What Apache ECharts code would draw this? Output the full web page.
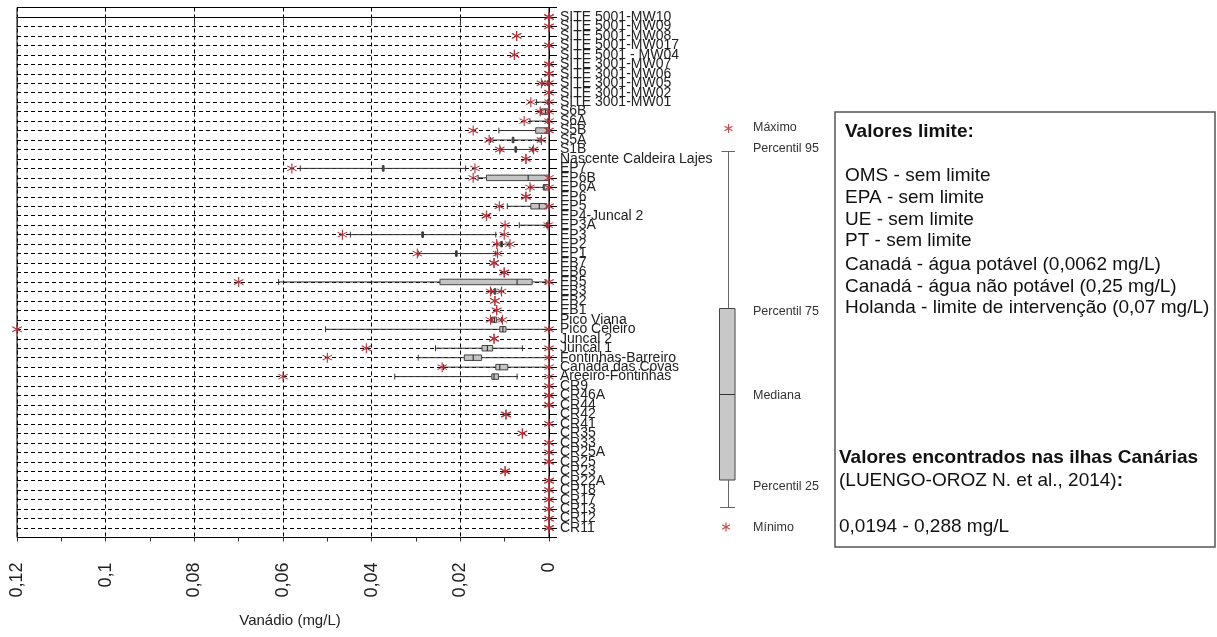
<!DOCTYPE html>
<html>
<head>
<meta charset="utf-8">
<script src="https://cdn.jsdelivr.net/npm/echarts@6/dist/echarts.min.js"></script>
<style>
html,body{margin:0;padding:0;background:#fff;}
#chart{width:1217px;height:637px;}
</style>
</head>
<body>
<div id="chart"></div>
<script>
// ---------- DATA ----------
const categories = [
  'SITE 5001-MW10','SITE 5001-MW09','SITE 5001-MW08','SITE 5001-MW017','SITE 5001 - MW04',
  'SITE 3001-MW07','SITE 3001-MW06','SITE 3001-MW05','SITE 3001-MW02','SITE 3001-MW01',
  'S6B','S6A','S5B','S5A','S1B','Nascente Caldeira Lajes','EP7','EP6B','EP6A','EP6','EP5',
  'EP4-Juncal 2','EP3A','EP3','EP2','EP1','EB7','EB6','EB5','EB3','EB2','EB1','Pico Viana',
  'Pico Celeiro','Juncal 2','Juncal 1','Fontinhas-Barreiro','Canada das Covas','Areeiro-Fontinhas',
  'CR9','CR46A','CR44','CR42','CR41','CR35','CR33','CR25A','CR25','CR23','CR22A','CR18','CR17',
  'CR13','CR12','CR11'
];
const maxVals = [
  0,0,0.0073,0,0.0078, 0,0,0.0017,0,0.0041,
  0.002,0.0056,0.0171,0.0135,0.0111,0.0052,0.058,0.0171,0.0043,0.0052,0.0112,
  0.0141,0.0099,0.0466,0.0118,0.0297,0.0124,0.0101,0.07,0.0132,0.0122,0.0118,0.0132,
  0.12,0.0124,0.0412,0.05,0.0241,0.06,
  0,0,0,0.0097,0,0.006,0,0,0,0.0099,0,0,0,0,0,0
];
const p95Vals = [
  null,null,null,null,null, null,null,0.0015,null,0.0028,
  0.0019,0.0043,0.0113,0.0132,0.0109,null,0.0561,0.016,0.0041,null,0.0094,
  null,0.0067,0.0448,0.0117,0.0295,null,null,0.061,0.013,null,null,0.013,
  0.0504,null,0.0256,0.0295,0.0238,0.0348,
  null,null,null,null,null,null,null,null,null,null,null,null,null,null,null,null
];
const p75Vals = [
  null,null,null,null,null, null,null,0.0003,null,0.0003,
  0.0017,0.0003,0.003,0.0083,0.0077,null,0.0376,0.0141,0.0013,null,0.0041,
  null,0.0006,0.0287,0.0109,0.0211,null,null,0.0246,0.0124,null,null,0.0128,
  0.0111,null,0.0151,0.0191,0.012,0.0129,
  null,null,null,null,null,null,null,null,null,null,null,null,null,null,null,null
];
const medVals = [
  null,null,null,null,null, null,null,0.0001,null,0.0001,
  0.0008,0.0001,0.0005,0.0081,0.0075,null,0.0374,0.0047,0.0011,null,0.0022,
  null,0.0004,0.0285,0.0107,0.0209,null,null,0.0072,0.0122,null,null,0.0123,
  0.0104,null,0.0139,0.0171,0.0111,0.0124,
  null,null,null,null,null,null,null,null,null,null,null,null,null,null,null,null
];
const p25Vals = [
  null,null,null,null,null, null,null,0,null,0,
  0.0002,0,0,0.0079,0.0073,null,0.0372,0.0002,0.0001,null,0.0005,
  null,0.0003,0.0283,0.0105,0.0207,null,null,0.0038,0.012,null,null,0.0118,
  0.0097,null,0.0127,0.0152,0.0093,0.0114,
  null,null,null,null,null,null,null,null,null,null,null,null,null,null,null,null
];
const p5Vals = [
  null,null,null,null,null, null,null,0,null,0,
  0,0,0,0.002,0.0037,null,0.0188,0,0,null,0,
  null,0.0002,0.012,0.009,0.012,null,null,0.0007,0.0108,null,null,0.0107,
  0.0001,null,0.006,0.0001,0.0001,0.0072,
  null,null,null,null,null,null,null,null,null,null,null,null,null,null,null,null
];
const minVals = [
  0,0,0.0073,0,0.0078, 0,0,0,0,0,
  0,0,0,0.0017,0.0035,0.0052,0.0167,0,0,0.0052,0,
  0.0141,0.0002,0.0101,0.0088,0.0116,0.0124,0.0101,0,0.0107,0.0122,0.0118,0.0105,
  0,0.0124,0,0,0,0,
  0,0,0,0.0097,0,0.006,0,0,0,0.0099,0,0,0,0,0,0
];
const xTicks = { min: 0, max: 0.12, interval: 0.02, minorInterval: 0.01 };

// ---------- BUILD ----------
const STAR = 'path://M45 0L55 0L55 100L45 100Z M9.5 20.7L95.5 70.7L90.5 79.3L4.5 29.3Z M4.5 70.7L90.5 20.7L95.5 29.3L9.5 79.3Z';
const starColor = '#b1333b';
const FONT = '"Liberation Sans", Arial, sans-serif';

const boxData = [];
categories.forEach((c, i) => {
  if (p95Vals[i] !== null) boxData.push([i, p95Vals[i], p75Vals[i], medVals[i], p25Vals[i], p5Vals[i]]);
});
const maxData = [], minData = [];
categories.forEach((c, i) => {
  if (maxVals[i] !== null) maxData.push([maxVals[i], i]);
  if (minVals[i] !== null) minData.push([minVals[i], i]);
});

function renderBox(params, api) {
  const i = api.value(0);
  const xs = [1,2,3,4,5].map(k => api.coord([api.value(k), i])[0]);
  const y = api.coord([0, i])[1];
  const band = api.size([0, 1])[1];
  const bh = band * 0.29;
  const th = band * 0.31;
  const [x95, x75, xm, x25, x5] = xs;
  const ls = { stroke: '#333', lineWidth: 1 };
  const children = [
    { type: 'line', shape: { x1: x95, y1: y, x2: x75, y2: y }, style: ls },
    { type: 'line', shape: { x1: x25, y1: y, x2: x5, y2: y }, style: ls },
    { type: 'line', shape: { x1: x95, y1: y - th, x2: x95, y2: y + th }, style: ls },
    { type: 'line', shape: { x1: x5, y1: y - th, x2: x5, y2: y + th }, style: ls },
    { type: 'rect', shape: { x: Math.min(x75, x25), y: y - bh, width: Math.abs(x25 - x75), height: 2 * bh },
      style: { fill: '#c4c4c4', stroke: '#444', lineWidth: 1 } },
    { type: 'line', shape: { x1: xm, y1: y - bh, x2: xm, y2: y + bh }, style: { stroke: '#222', lineWidth: 1 } }
  ];
  return { type: 'group', children };
}

function legendStar(cx, cy, r) {
  const st = { stroke: '#c0504d', lineWidth: 1.2 };
  const dx = r * 0.87, dy = r * 0.5;
  return { type: 'group', children: [
    { type: 'line', shape: { x1: cx, y1: cy - r, x2: cx, y2: cy + r }, style: st },
    { type: 'line', shape: { x1: cx - dx, y1: cy - dy, x2: cx + dx, y2: cy + dy }, style: st },
    { type: 'line', shape: { x1: cx - dx, y1: cy + dy, x2: cx + dx, y2: cy - dy }, style: st }
  ]};
}

const legendFont = '12.5px ' + FONT;
const boxFont = '19px ' + FONT;
const boxBold = 'bold 19px ' + FONT;
const lx = 753;
function txt(x, y, text, font, fill, extra) {
  return { type: 'text', x, y, style: Object.assign({ text, font, fill, textVerticalAlign: 'middle' }, extra || {}) };
}
const graphic = [
  legendStar(728.5, 128.5, 4.5),
  txt(lx, 128, 'Máximo', legendFont, '#333'),
  txt(lx, 149, 'Percentil 95', legendFont, '#333'),
  { type: 'line', shape: { x1: 721.5, y1: 151.5, x2: 735, y2: 151.5 }, style: { stroke: '#666', lineWidth: 1 } },
  { type: 'line', shape: { x1: 728.5, y1: 151.5, x2: 728.5, y2: 308 }, style: { stroke: '#666', lineWidth: 1 } },
  { type: 'rect', shape: { x: 719.5, y: 308.5, width: 15.5, height: 171.5 }, style: { fill: '#c8c8c8', stroke: '#444', lineWidth: 1 } },
  { type: 'line', shape: { x1: 719.5, y1: 394.5, x2: 735, y2: 394.5 }, style: { stroke: '#333', lineWidth: 1 } },
  { type: 'line', shape: { x1: 728.5, y1: 480, x2: 728.5, y2: 507.5 }, style: { stroke: '#666', lineWidth: 1 } },
  { type: 'line', shape: { x1: 720, y1: 507.5, x2: 735, y2: 507.5 }, style: { stroke: '#666', lineWidth: 1 } },
  txt(lx, 311.5, 'Percentil 75', legendFont, '#333'),
  txt(lx, 396, 'Mediana', legendFont, '#333'),
  txt(lx, 487, 'Percentil 25', legendFont, '#333'),
  legendStar(726, 527, 4.5),
  txt(lx, 528, 'Mínimo', legendFont, '#333'),
  { type: 'rect', shape: { x: 835, y: 112, width: 380, height: 435 }, style: { fill: 'none', stroke: '#555', lineWidth: 1.5 } },
  txt(845, 132, 'Valores limite:', boxBold, '#111'),
  txt(845, 176, 'OMS - sem limite', boxFont, '#111'),
  txt(845, 197.7, 'EPA - sem limite', boxFont, '#111'),
  txt(845, 219.4, 'UE - sem limite', boxFont, '#111'),
  txt(845, 241.1, 'PT - sem limite', boxFont, '#111'),
  txt(845, 264.8, 'Canadá - água potável (0,0062 mg/L)', boxFont, '#111'),
  txt(845, 286.5, 'Canadá - água não potável (0,25 mg/L)', boxFont, '#111'),
  txt(845, 308.2, 'Holanda - limite de intervenção (0,07 mg/L)', boxFont, '#111'),
  txt(839, 457.5, 'Valores encontrados nas ilhas Canárias', boxBold, '#111'),
  txt(839, 481, '(LUENGO-OROZ N. et al., 2014){b|:}', boxFont, '#111', { rich: { b: { font: boxBold, fill: '#111' } } }),
  txt(839, 527, '0,0194 - 0,288 mg/L', boxFont, '#111')
];

const chart = echarts.init(document.getElementById('chart'), null, { renderer: 'canvas' });
chart.setOption({
  animation: false,
  backgroundColor: '#fff',
  grid: { left: 17, right: 668, top: 7.5, bottom: 99.5, show: true, borderColor: '#000', borderWidth: 1, backgroundColor: 'transparent' },
  xAxis: [{
    type: 'value', min: xTicks.min, max: xTicks.max, interval: xTicks.interval, inverse: true, position: 'bottom',
    name: 'Vanádio (mg/L)', nameLocation: 'middle', nameGap: 76,
    nameTextStyle: { fontFamily: FONT, fontSize: 15, color: '#222', padding: [0, 0, 0, 14] },
    axisLine: { show: true, lineStyle: { color: '#000' } },
    axisTick: { show: true, length: 8, lineStyle: { color: '#333' } },
    axisLabel: { rotate: 90, fontFamily: FONT, fontSize: 18, color: '#222', margin: 25,
      formatter: v => String(+v.toFixed(2)).replace('.', ',') },
    splitLine: { show: true, lineStyle: { color: '#000', type: [4, 3], width: 1 } }
  }, {
    type: 'value', min: xTicks.min, max: xTicks.max, interval: xTicks.minorInterval, inverse: true, position: 'bottom',
    axisLine: { show: false },
    axisTick: { show: true, length: 4, lineStyle: { color: '#333' } },
    axisLabel: { show: false },
    splitLine: { show: false }
  }],
  yAxis: {
    type: 'value', min: -1, max: 55, interval: 1, inverse: true, position: 'right',
    axisLine: { show: true, lineStyle: { color: '#000' } },
    axisTick: { show: true, length: 8, lineStyle: { color: '#000' } },
    axisLabel: { fontFamily: FONT, fontSize: 14, color: '#222', margin: 11,
      formatter: v => categories[Math.round(v)] || '' },
    splitLine: { show: true, lineStyle: { color: '#000', type: [4, 3], width: 1 } }
  },
  series: [
    { type: 'custom', renderItem: renderBox, data: boxData, encode: { x: [1,2,3,4,5], y: 0 }, z: 3 },
    { type: 'scatter', name: 'Máximo', data: maxData, symbol: STAR, symbolSize: 10,
      itemStyle: { color: starColor, opacity: 1 }, z: 4 },
    { type: 'scatter', name: 'Mínimo', data: minData, symbol: STAR, symbolSize: 10,
      itemStyle: { color: starColor, opacity: 1 }, z: 4 }
  ],
  graphic
});
</script>
</body>
</html>
